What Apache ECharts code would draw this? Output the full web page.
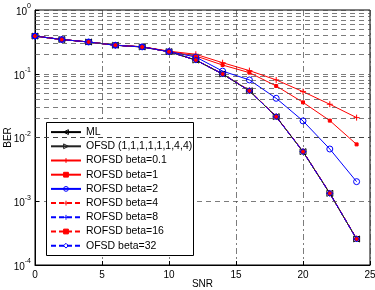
<!DOCTYPE html>
<html>
<head>
<meta charset="utf-8">
<script src="https://cdn.jsdelivr.net/npm/echarts@6/dist/echarts.min.js"></script>
<style>
html, body { margin: 0; padding: 0; background: #fff; }
#main { width: 375px; height: 290px; }
</style>
</head>
<body>
<div id="main"></div>
<script>
// SNR points
var snr = [0, 2, 4, 6, 8, 10, 12, 14, 16, 18, 20, 22, 24];

// BER curves
var ml       = [0.39, 0.344, 0.315, 0.28, 0.263, 0.222, 0.164, 0.099, 0.054, 0.0212, 0.006, 0.00133, 0.000256];
var ofsd     = [0.39, 0.344, 0.315, 0.28, 0.263, 0.222, 0.164, 0.099, 0.054, 0.0212, 0.006, 0.00133, 0.000256];
var beta01   = [0.39, 0.344, 0.315, 0.281, 0.265, 0.226, 0.202, 0.149, 0.112, 0.080, 0.0524, 0.0332, 0.0205];
var beta1    = [0.39, 0.344, 0.315, 0.281, 0.265, 0.224, 0.19, 0.137, 0.104, 0.0643, 0.0356, 0.0184, 0.0078];
var beta2    = [0.39, 0.344, 0.315, 0.28, 0.264, 0.222, 0.183, 0.110, 0.080, 0.0412, 0.0182, 0.0066, 0.00203];
var beta4    = [0.39, 0.344, 0.315, 0.28, 0.263, 0.222, 0.165, 0.100, 0.055, 0.0214, 0.0061, 0.00135, 0.00026];
var beta8    = [0.39, 0.344, 0.315, 0.28, 0.263, 0.222, 0.164, 0.099, 0.054, 0.0212, 0.006, 0.00133, 0.000256];
var beta16   = [0.39, 0.344, 0.315, 0.28, 0.263, 0.222, 0.164, 0.099, 0.054, 0.0212, 0.006, 0.00133, 0.000256];
var beta32   = [0.39, 0.344, 0.315, 0.28, 0.263, 0.222, 0.164, 0.099, 0.054, 0.0212, 0.006, 0.00133, 0.000256];

var names = ['ML', 'OFSD (1,1,1,1,1,1,4,4)', 'ROFSD beta=0.1', 'ROFSD beta=1', 'ROFSD beta=2',
             'ROFSD beta=4', 'ROFSD beta=8', 'ROFSD beta=16', 'OFSD beta=32'];

var decades = [1e-4, 1e-3, 1e-2, 1e-1, 1];

var plusPath = 'path://M0,-5L0,5M-5,0L5,0';
var triLeft = 'path://M-5,0L5,-5L5,5Z';
var triRight = 'path://M5,0L-5,-5L-5,5Z';
var RED = '#ff0000', BLUE = '#0000ff', BLK = '#000000';
var NOFILL = 'rgba(255,255,255,0)';

function pairs(ys) {
    var out = [];
    for (var i = 0; i < snr.length; i++) out.push([snr[i], ys[i]]);
    return out;
}

function curve(name, ys, color, dashed, symbol, size, filled) {
    return {
        name: name,
        type: 'line',
        data: pairs(ys),
        symbol: symbol,
        symbolSize: size,
        showAllSymbol: true,
        clip: false,
        lineStyle: { color: color, width: 1, type: dashed ? [5, 3] : 'solid' },
        itemStyle: { color: filled ? color : NOFILL, borderColor: color, borderWidth: 1 },
        emphasis: { disabled: true },
        animation: false
    };
}

function legendItem(name, color, filled) {
    return {
        name: name,
        itemStyle: { color: filled ? color : NOFILL, borderColor: color, borderWidth: 1 }
    };
}

// minor log grid lines 2..9 in each decade
var minorLines = [];
for (var d = 0; d < decades.length - 1; d++) {
    for (var k = 2; k <= 9; k++) minorLines.push({ yAxis: decades[d] * k });
}

var chart = echarts.init(document.getElementById('main'));
var option = {
    backgroundColor: '#fff',
    animation: false,
    grid: {
        left: 35, right: 5, top: 10, bottom: 25,
        outerBoundsMode: 'none',
        containLabel: false,
        show: true, borderColor: '#000', borderWidth: 1, backgroundColor: '#fff'
    },
    // legend frame (white box with black border behind the legend items)
    graphic: [{
        type: 'rect',
        left: 46, top: 122,
        z: 3,
        shape: { width: 147, height: 133 },
        style: { fill: '#fff', stroke: '#000', lineWidth: 1 },
        silent: true
    }],
    legend: {
        data: [
            legendItem(names[0], BLK, false),
            legendItem(names[1], '#222', false),
            legendItem(names[2], RED, false),
            legendItem(names[3], RED, true),
            legendItem(names[4], BLUE, false),
            legendItem(names[5], RED, false),
            legendItem(names[6], BLUE, false),
            legendItem(names[7], RED, true),
            legendItem(names[8], BLUE, false)
        ],
        z: 5,
        orient: 'vertical',
        left: 46, top: 123,
        padding: [3, 5, 4, 4],
        itemGap: 2,
        itemWidth: 30, itemHeight: 6,
        borderWidth: 0,
        backgroundColor: 'transparent',
        textStyle: { fontFamily: 'Liberation Sans', fontSize: 10.5, color: '#000', lineHeight: 12.2 },
        selectedMode: false
    },
    xAxis: {
        type: 'value', min: 0, max: 25, interval: 5,
        name: 'SNR', nameLocation: 'middle', nameGap: 14, nameMoveOverlap: false,
        nameTextStyle: { fontFamily: 'Liberation Sans', fontSize: 10, color: '#000' },
        axisLine: { show: true, lineStyle: { color: '#000', width: 1 } },
        axisTick: { inside: true, length: 4, lineStyle: { color: '#000' } },
        axisLabel: { fontFamily: 'Liberation Sans', fontSize: 10, color: '#000', margin: 5 },
        splitLine: { show: true, lineStyle: { color: '#444', width: 0.7, type: [6, 3, 2, 3] } }
    },
    yAxis: {
        type: 'log', logBase: 10, min: 1e-4, max: 1,
        name: 'BER', nameLocation: 'middle', nameGap: 22, nameMoveOverlap: false,
        nameTextStyle: { fontFamily: 'Liberation Sans', fontSize: 10, color: '#000' },
        axisLine: { show: true, lineStyle: { color: '#000', width: 1 } },
        axisTick: { inside: true, length: 4, lineStyle: { color: '#000' } },
        axisLabel: {
            margin: 4,
            formatter: function (v) {
                var e = Math.round(Math.log10(v));
                return '{b|10}{s|' + e + '}';
            },
            rich: {
                b: { fontFamily: 'Liberation Sans', fontSize: 10, color: '#000', lineHeight: 14, verticalAlign: 'bottom' },
                s: { fontFamily: 'Liberation Sans', fontSize: 7, color: '#000', lineHeight: 14, verticalAlign: 'top', padding: [0, 0, 7, 0] }
            }
        },
        splitLine: { show: true, lineStyle: { color: '#444', width: 0.7, type: [5, 4] } }
    },
    series: [
        {
            name: 'minor-grid',
            type: 'line',
            data: [],
            silent: true,
            markLine: {
                silent: true,
                symbol: ['none', 'none'],
                label: { show: false },
                lineStyle: { color: '#444', width: 0.7, type: [5, 4] },
                emphasis: { disabled: true },
                data: minorLines,
                animation: false
            }
        },
        curve(names[0], ml, BLK, false, triLeft, 6, false),
        curve(names[1], ofsd, '#222', false, triRight, 6, false),
        curve(names[2], beta01, RED, false, plusPath, 6, false),
        curve(names[3], beta1, RED, false, 'rect', 3, true),
        curve(names[4], beta2, BLUE, false, 'circle', 6, false),
        curve(names[5], beta4, RED, true, plusPath, 6, false),
        curve(names[6], beta8, BLUE, true, plusPath, 6, false),
        curve(names[7], beta16, RED, true, 'rect', 3, true),
        curve(names[8], beta32, BLUE, true, 'diamond', 6, false)
    ]
};
chart.setOption(option);
</script>
</body>
</html>
